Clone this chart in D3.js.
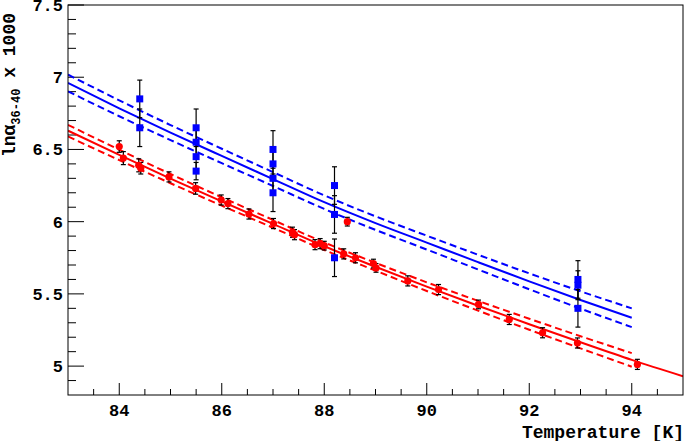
<!DOCTYPE html>
<html>
<head>
<meta charset="utf-8">
<script src="https://cdn.jsdelivr.net/npm/d3@7"></script>
<style>
  body { margin: 0; background: #fff; }
  svg { display: block; }
  .tick-label { font-family: "Liberation Mono", "DejaVu Sans Mono", monospace; font-size: 17px; font-weight: bold; }
  .title { font-family: "Liberation Mono", "DejaVu Sans Mono", monospace; font-size: 18px; font-weight: bold; }
</style>
</head>
<body>
<div id="chart"></div>
<script>
// red data points: temperature, value, error
const redT   = [84.0, 84.08, 84.38, 84.42, 84.97, 85.49, 85.99, 86.12, 86.53, 87.01, 87.38, 87.42, 87.82, 87.92, 88.0, 88.45, 88.38, 88.61, 88.96, 89.01, 89.63, 90.23, 91.01, 91.61, 92.26, 92.94, 94.11];
const redV   = [6.52, 6.44, 6.39, 6.37, 6.31, 6.23, 6.15, 6.125, 6.053, 5.987, 5.927, 5.91, 5.841, 5.848, 5.834, 6.0, 5.777, 5.75, 5.71, 5.68, 5.59, 5.53, 5.427, 5.323, 5.231, 5.16, 5.012];
const redErr = [0.04, 0.045, 0.045, 0.04, 0.035, 0.04, 0.035, 0.035, 0.035, 0.035, 0.035, 0.035, 0.035, 0.035, 0.03, 0.03, 0.035, 0.035, 0.03, 0.03, 0.035, 0.035, 0.03, 0.035, 0.035, 0.035, 0.035];

// blue data points
const blueT   = [84.4, 84.4, 85.5, 85.5, 85.5, 85.5, 87.0, 87.0, 87.0, 87.0, 88.2, 88.2, 88.2, 92.95, 92.95, 92.95];
const blueV   = [6.85, 6.65, 6.65, 6.55, 6.45, 6.35, 6.50, 6.40, 6.30, 6.20, 6.25, 6.05, 5.75, 5.60, 5.56, 5.40];
const blueErr = [0.13, 0.13, 0.13, 0.10, 0.10, 0.06, 0.13, 0.10, 0.10, 0.13, 0.13, 0.13, 0.13, 0.13, 0.10, 0.13];

// fit curves
const fitT      = [83, 84, 85, 86, 87, 88, 89, 90, 91, 92, 93, 94];
const blueFit   = [6.96, 6.785, 6.617, 6.455, 6.295, 6.135, 5.99, 5.855, 5.72, 5.587, 5.458, 5.335];
const blueUpper = [7.018, 6.84, 6.669, 6.505, 6.343, 6.182, 6.037, 5.903, 5.771, 5.642, 5.518, 5.40];
const blueLower = [6.902, 6.73, 6.565, 6.405, 6.247, 6.088, 5.943, 5.807, 5.669, 5.532, 5.398, 5.27];
const redFitT   = [83, 84, 85, 86, 87, 88, 89, 90, 91, 92, 93, 94, 95];
const redFit    = [6.63, 6.462, 6.298, 6.14, 5.985, 5.83, 5.688, 5.55, 5.418, 5.29, 5.165, 5.043, 4.93];
const redUpper  = [6.67, 6.498, 6.33, 6.169, 6.012, 5.856, 5.715, 5.58, 5.452, 5.328, 5.207, 5.09];
const redLower  = [6.59, 6.426, 6.266, 6.111, 5.958, 5.804, 5.661, 5.52, 5.384, 5.252, 5.123, 4.996];

const xTicks = [84, 86, 88, 90, 92, 94];
const yTicks = [5, 5.5, 6, 6.5, 7, 7.5];

const W = 685, H = 441;
const margin = { top: 5, right: 2, bottom: 46, left: 68 };
const width = W - margin.left - margin.right;
const height = H - margin.top - margin.bottom;

const svg = d3.select("#chart").append("svg")
    .attr("width", W)
    .attr("height", H);

const g = svg.append("g").attr("transform", `translate(${margin.left},${margin.top})`);

const x = d3.scaleLinear().domain([83, 95]).range([0, width]);
const y = d3.scaleLinear().domain([4.8, 7.5]).range([height, 0]);

g.append("clipPath").attr("id", "clip")
    .append("rect").attr("width", width).attr("height", height);

// ticks (inside the frame, ROOT style)
const xMinor = d3.range(83.5, 95, 0.5).filter(t => !xTicks.includes(t));
const yMinor = d3.range(4.9, 7.5, 0.1).map(v => +v.toFixed(1)).filter(v => !yTicks.includes(v));

g.selectAll(".xmaj").data(xTicks).enter().append("line")
    .attr("x1", d => x(d)).attr("x2", d => x(d))
    .attr("y1", height).attr("y2", height - 12)
    .attr("stroke", "#000");
g.selectAll(".xmin").data(xMinor).enter().append("line")
    .attr("x1", d => x(d)).attr("x2", d => x(d))
    .attr("y1", height).attr("y2", height - 6)
    .attr("stroke", "#000");
g.selectAll(".ymaj").data(yTicks).enter().append("line")
    .attr("x1", 0).attr("x2", 16)
    .attr("y1", d => y(d)).attr("y2", d => y(d))
    .attr("stroke", "#000");
g.selectAll(".ymin").data(yMinor).enter().append("line")
    .attr("x1", 0).attr("x2", 8)
    .attr("y1", d => y(d)).attr("y2", d => y(d))
    .attr("stroke", "#000");

g.selectAll(".xlab").data(xTicks).enter().append("text")
    .attr("class", "tick-label")
    .attr("x", d => x(d)).attr("y", height + 21)
    .attr("text-anchor", "middle")
    .text(d => d);
g.selectAll(".ylab").data(yTicks).enter().append("text")
    .attr("class", "tick-label")
    .attr("x", -5).attr("y", d => y(d) + 6)
    .attr("text-anchor", "end")
    .text(d => d);

// fit lines
const plot = g.append("g").attr("clip-path", "url(#clip)");
const curve = (ts) => d3.line()
    .x((d, i) => x(ts[i]))
    .y(d => y(d))
    .curve(d3.curveMonotoneX);

const drawLine = (ts, vals, color, dashed) => {
    plot.append("path")
        .datum(vals)
        .attr("fill", "none")
        .attr("stroke", color)
        .attr("stroke-width", 2)
        .attr("stroke-dasharray", dashed ? "7,4" : null)
        .attr("d", curve(ts));
};

drawLine(fitT, blueUpper, "#0000ff", true);
drawLine(fitT, blueLower, "#0000ff", true);
drawLine(fitT, blueFit, "#0000ff", false);
drawLine(fitT, redUpper, "#ff0000", true);
drawLine(fitT, redLower, "#ff0000", true);
drawLine(redFitT, redFit, "#ff0000", false);

// error bars
const errBars = (ts, vs, es) => {
    const idx = d3.range(ts.length);
    plot.selectAll(null).data(idx).enter().append("line")
        .attr("x1", i => x(ts[i])).attr("x2", i => x(ts[i]))
        .attr("y1", i => y(vs[i] + es[i])).attr("y2", i => y(vs[i] - es[i]))
        .attr("stroke", "#000").attr("stroke-width", 1.2);
    [1, -1].forEach(s => {
        plot.selectAll(null).data(idx).enter().append("line")
            .attr("x1", i => x(ts[i]) - 2.5).attr("x2", i => x(ts[i]) + 2.5)
            .attr("y1", i => y(vs[i] + s * es[i])).attr("y2", i => y(vs[i] + s * es[i]))
            .attr("stroke", "#000").attr("stroke-width", 1.2);
    });
};

errBars(blueT, blueV, blueErr);
errBars(redT, redV, redErr);

plot.selectAll(".blue-pt").data(d3.range(blueT.length)).enter().append("rect")
    .attr("x", i => x(blueT[i]) - 3.5)
    .attr("y", i => y(blueV[i]) - 3.5)
    .attr("width", 7).attr("height", 7)
    .attr("fill", "#0000ff");

plot.selectAll(".red-pt").data(d3.range(redT.length)).enter().append("circle")
    .attr("cx", i => x(redT[i]))
    .attr("cy", i => y(redV[i]))
    .attr("r", 3.6)
    .attr("fill", "#ff0000");

// frame
g.append("rect")
    .attr("width", width).attr("height", height)
    .attr("fill", "none").attr("stroke", "#000").attr("stroke-width", 1);

// axis titles
svg.append("text")
    .attr("class", "title")
    .attr("x", W - 1).attr("y", H - 3)
    .attr("text-anchor", "end")
    .text("Temperature [K]");

const yt = svg.append("text")
    .attr("class", "title")
    .attr("transform", "translate(15,13) rotate(-90)")
    .attr("text-anchor", "end");
yt.append("tspan").text("ln\u03b1");
yt.append("tspan").attr("font-size", "12px").attr("dy", 5).text("36-40");
yt.append("tspan").attr("dy", -5).text(" x 1000");
</script>
</body>
</html>
